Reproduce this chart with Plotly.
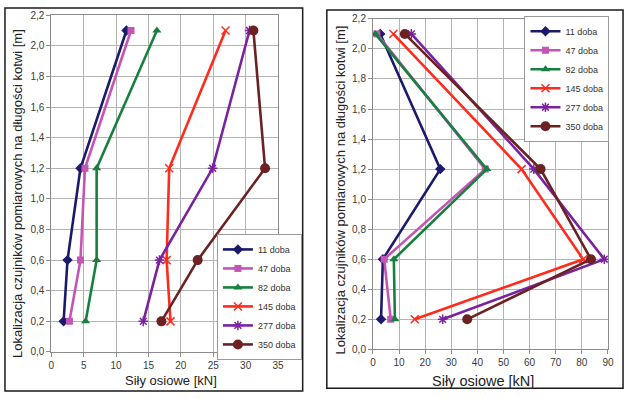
import plotly.graph_objects as go

W, H = 632, 399

series = ["11 doba", "47 doba", "82 doba", "145 doba", "277 doba", "350 doba"]
depth = [2.1, 1.2, 0.6, 0.2]

left_11 = [11.6, 4.5, 2.5, 1.9]
left_47 = [12.3, 5.2, 4.5, 2.8]
left_82 = [16.3, 7.0, 7.0, 5.3]
left_145 = [26.9, 18.2, 17.8, 18.4]
left_277 = [30.6, 24.9, 16.7, 14.2]
left_350 = [31.2, 33.0, 22.6, 17.0]

right_11 = [2.8, 25.8, 3.8, 3.1]
right_47 = [1.5, 43.0, 4.3, 6.8]
right_82 = [0.9, 43.6, 8.0, 8.4]
right_145 = [7.8, 56.9, 80.5, 16.0]
right_277 = [14.7, 61.6, 88.6, 26.7]
right_350 = [12.2, 64.2, 83.5, 36.1]

y_ticks = [0.0, 0.2, 0.4, 0.6, 0.8, 1.0, 1.2, 1.4, 1.6, 1.8, 2.0, 2.2]

colors = ["#1c1a6c", "#c455b5", "#17803f", "#ff2b1c", "#7a22a0", "#6c2222"]
symbols = ["diamond", "square", "triangle-up", "x-thin-open", "asterisk-open", "circle"]
msizes = [8, 7, 8, 8, 8, 10]

left_vals = [left_11, left_47, left_82, left_145, left_277, left_350]
right_vals = [right_11, right_47, right_82, right_145, right_277, right_350]

FONT = "Liberation Sans, Arial, sans-serif"

fig = go.Figure()

def add_traces(vals, xa, ya, leg):
    for name, v, c, s, ms in zip(series, vals, colors, symbols, msizes):
        open_sym = s.endswith("open")
        fig.add_trace(go.Scatter(
            x=v, y=depth, mode="lines+markers", name=name,
            xaxis=xa, yaxis=ya, legend=leg,
            line=dict(color=c, width=2.6),
            marker=dict(symbol=s, size=ms, color=c,
                        line=dict(color=c, width=1.5 if open_sym else 0)),
        ))

add_traces(left_vals, "x", "y", "legend")
add_traces(right_vals, "x2", "y2", "legend2")

ax_common = dict(
    showgrid=True, gridcolor="#b4b4b4", gridwidth=1,
    showline=True, linecolor="#8c8c8c", linewidth=1, mirror=True,
    ticks="outside", ticklen=4, tickcolor="#8c8c8c",
    tickfont=dict(family=FONT, size=10, color="#3a3a3a"),
    zeroline=False, fixedrange=True,
)

legend_common = dict(
    xanchor="left", yanchor="top",
    bgcolor="white", bordercolor="#9a9a9a", borderwidth=1,
    font=dict(family=FONT, size=9, color="#333"), itemwidth=30,
    tracegroupgap=0,
)

fig.update_layout(
    width=W, height=H,
    margin=dict(l=0, r=0, t=0, b=0),
    paper_bgcolor="white", plot_bgcolor="white",
    separators=", ",
    showlegend=True,
    xaxis=dict(domain=[49 / W, 279 / W], range=[0, 35], dtick=5, anchor="y", **ax_common),
    yaxis=dict(domain=[1 - 356.7 / H, 1 - 9.5 / H], range=[0, 2.2], tickvals=y_ticks,
               tickformat=".1f", anchor="x", **ax_common),
    xaxis2=dict(domain=[375.3 / W, 613.7 / W], range=[0, 90], dtick=10, anchor="y2", **ax_common),
    yaxis2=dict(domain=[1 - 354 / H, 1 - 13.3 / H], range=[0, 2.2], tickvals=y_ticks,
                tickformat=".1f", anchor="x2", **ax_common),
    legend=dict(x=217 / W, y=1 - 235 / H, **legend_common),
    legend2=dict(x=529 / W, y=1 - 10 / H, **legend_common),
    font=dict(family=FONT),
)

# outer boxes
fig.add_shape(type="rect", xref="paper", yref="paper",
              x0=2 / W, x1=304 / W, y0=1 - 397 / H, y1=1 - 2 / H,
              line=dict(color="#1a1a1a", width=1.5))
fig.add_shape(type="rect", xref="paper", yref="paper",
              x0=328.5 / W, x1=629 / W, y0=1 - 394 / H, y1=1 - 4 / H,
              line=dict(color="#1a1a1a", width=1.5))

ytitle = "Lokalizacja czujników pomiarowych na długości kotwi [m]"
xtitle = "Siły osiowe [kN]"
fig.add_annotation(text=ytitle, xref="paper", yref="paper", x=14 / W, y=1 - 193 / H,
                   xanchor="center", yanchor="middle",
                   textangle=-90, showarrow=False, font=dict(family=FONT, size=13, color="#222"))
fig.add_annotation(text=ytitle, xref="paper", yref="paper", x=342 / W, y=1 - 190 / H,
                   xanchor="center", yanchor="middle",
                   textangle=-90, showarrow=False, font=dict(family=FONT, size=13, color="#222"))
fig.add_annotation(text=xtitle, xref="paper", yref="paper", x=170 / W, y=1 - 386 / H,
                   xanchor="center", yanchor="middle",
                   showarrow=False, font=dict(family=FONT, size=13, color="#222"))
fig.add_annotation(text=xtitle, xref="paper", yref="paper", x=487 / W, y=1 - 387 / H,
                   xanchor="center", yanchor="middle",
                   showarrow=False, font=dict(family=FONT, size=14.5, color="#222"))

fig.write_html("out.html",
               config={"displayModeBar": False},
               post_script="document.body.style.margin='0px';document.body.style.overflow='hidden';")
